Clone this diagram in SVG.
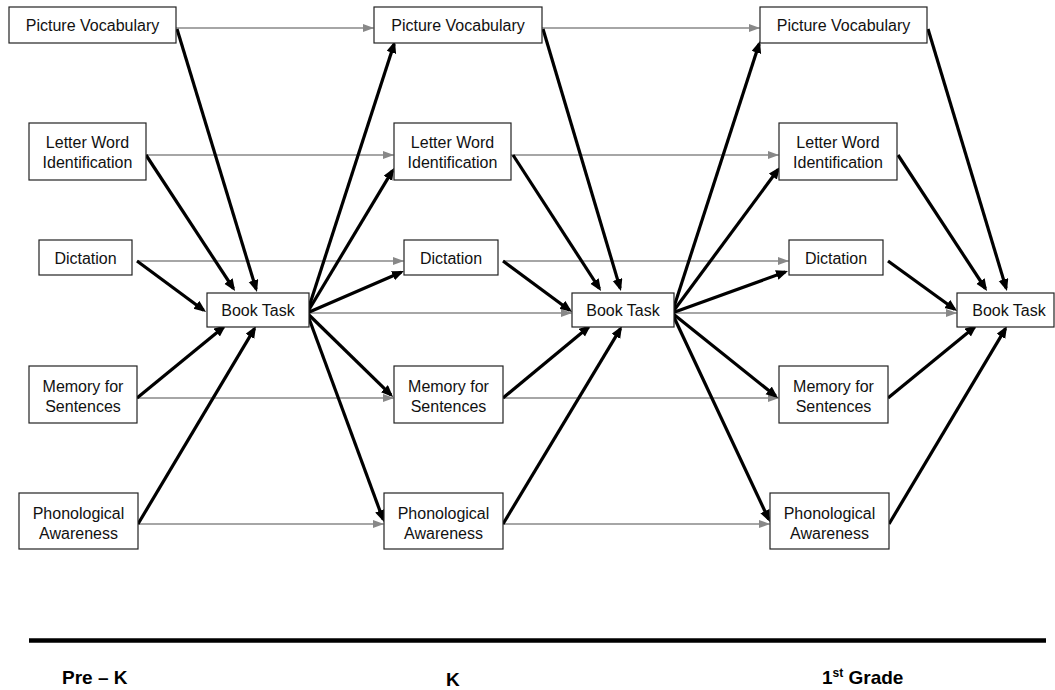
<svg xmlns="http://www.w3.org/2000/svg" width="1055" height="690" viewBox="0 0 1055 690">
<style>
.box{fill:#fff;stroke:#222;stroke-width:1.2}
.t{font-family:"Liberation Sans",Arial,sans-serif;font-size:16px;fill:#111;text-anchor:middle}
.g{stroke:#888;stroke-width:1.6;fill:none;marker-end:url(#gh)}
.b{stroke:#000;stroke-width:3.2;fill:none;marker-end:url(#ah)}
.lab{font-family:"Liberation Sans",Arial,sans-serif;font-size:19px;font-weight:bold;fill:#000}
</style>
<defs>
<marker id="ah" markerUnits="userSpaceOnUse" markerWidth="13" markerHeight="11" refX="9" refY="5" orient="auto"><path d="M0,0 L12,5 L0,10 z" fill="#000"/></marker>
<marker id="gh" markerUnits="userSpaceOnUse" markerWidth="12" markerHeight="9" refX="10.5" refY="4" orient="auto"><path d="M0,0 L11,4 L0,8 z" fill="#888"/></marker>
</defs>
<rect width="1055" height="690" fill="#fff"/>
<g id="connectors">
<!-- gray: Pre-K to K -->
<line class="g" x1="176" y1="28" x2="373.5" y2="28"/>
<line class="g" x1="146" y1="155" x2="393.5" y2="155"/>
<line class="g" x1="137" y1="261" x2="403.5" y2="261"/>
<line class="g" x1="309" y1="313" x2="571.5" y2="313"/>
<line class="g" x1="137" y1="398" x2="393.5" y2="398"/>
<line class="g" x1="138" y1="524" x2="383.5" y2="524"/>
<!-- gray: K to 1st -->
<line class="g" x1="542" y1="28" x2="759.5" y2="28"/>
<line class="g" x1="511" y1="155" x2="778.5" y2="155"/>
<line class="g" x1="503" y1="261" x2="788.5" y2="261"/>
<line class="g" x1="674" y1="313" x2="956.5" y2="313"/>
<line class="g" x1="503" y1="398" x2="778.5" y2="398"/>
<line class="g" x1="503" y1="524" x2="769.5" y2="524"/>
<!-- black: Pre-K to Book Task 1 -->
<line class="b" x1="177" y1="29" x2="256.1" y2="289.1"/>
<line class="b" x1="146" y1="155" x2="233.4" y2="288.5"/>
<line class="b" x1="137" y1="261" x2="203.6" y2="310.2"/>
<line class="b" x1="137" y1="398" x2="223.7" y2="326.9"/>
<line class="b" x1="138" y1="524" x2="254.5" y2="328.6"/>
<!-- black: Book Task 1 to K -->
<line class="b" x1="307" y1="313" x2="394.1" y2="43.9"/>
<line class="b" x1="307" y1="313" x2="392.5" y2="170.6"/>
<line class="b" x1="307" y1="313" x2="401.2" y2="272.2"/>
<line class="b" x1="307" y1="313" x2="390.9" y2="394.9"/>
<line class="b" x1="307" y1="313" x2="383" y2="519.2"/>
<!-- black: K to Book Task 2 -->
<line class="b" x1="543" y1="29" x2="620.1" y2="288.1"/>
<line class="b" x1="513" y1="155" x2="599.4" y2="288.5"/>
<line class="b" x1="503" y1="261" x2="569.6" y2="310.2"/>
<line class="b" x1="503" y1="398" x2="588.7" y2="326.9"/>
<line class="b" x1="503" y1="524" x2="620.5" y2="328.6"/>
<!-- black: Book Task 2 to 1st -->
<line class="b" x1="672" y1="313" x2="759.1" y2="43.9"/>
<line class="b" x1="672" y1="313" x2="778.2" y2="169.4"/>
<line class="b" x1="672" y1="313" x2="785.2" y2="272"/>
<line class="b" x1="672" y1="313" x2="775.7" y2="396.1"/>
<line class="b" x1="672" y1="313" x2="768.7" y2="519.3"/>
<!-- black: 1st to Book Task 3 -->
<line class="b" x1="928" y1="29" x2="1006.1" y2="288.1"/>
<line class="b" x1="898" y1="155" x2="985.4" y2="288.5"/>
<line class="b" x1="888" y1="261" x2="954.6" y2="309.2"/>
<line class="b" x1="888" y1="398" x2="974.7" y2="326.9"/>
<line class="b" x1="889" y1="524" x2="1005.5" y2="328.6"/>
</g>
<!-- Pre-K column -->
<g id="pv1"><rect class="box" x="9" y="7" width="167" height="36"/><text class="t" x="92.5" y="31">Picture Vocabulary</text></g>
<g id="lwi1"><rect class="box" x="29" y="123" width="117" height="57"/><text class="t" x="87.5" y="148">Letter Word</text><text class="t" x="87.5" y="168">Identification</text></g>
<g id="dict1"><rect class="box" x="39" y="240" width="93" height="35"/><text class="t" x="85.5" y="263.5">Dictation</text></g>
<g id="bt1"><rect class="box" x="207" y="293" width="102" height="34"/><text class="t" x="258" y="316">Book Task</text></g>
<g id="mem1"><rect class="box" x="29" y="366" width="108" height="57"/><text class="t" x="83" y="391.5">Memory for</text><text class="t" x="83" y="411.5">Sentences</text></g>
<g id="pa1"><rect class="box" x="19" y="493" width="119" height="56"/><text class="t" x="78.5" y="518.5">Phonological</text><text class="t" x="78.5" y="538.5">Awareness</text></g>
<!-- K column -->
<g id="pv2"><rect class="box" x="374" y="7" width="168" height="36"/><text class="t" x="458" y="31">Picture Vocabulary</text></g>
<g id="lwi2"><rect class="box" x="394" y="123" width="117" height="57"/><text class="t" x="452.5" y="148">Letter Word</text><text class="t" x="452.5" y="168">Identification</text></g>
<g id="dict2"><rect class="box" x="404" y="240" width="94" height="35"/><text class="t" x="451" y="263.5">Dictation</text></g>
<g id="bt2"><rect class="box" x="572" y="293" width="102" height="34"/><text class="t" x="623" y="316">Book Task</text></g>
<g id="mem2"><rect class="box" x="394" y="366" width="109" height="57"/><text class="t" x="448.5" y="391.5">Memory for</text><text class="t" x="448.5" y="411.5">Sentences</text></g>
<g id="pa2"><rect class="box" x="384" y="493" width="119" height="56"/><text class="t" x="443.5" y="518.5">Phonological</text><text class="t" x="443.5" y="538.5">Awareness</text></g>
<!-- 1st grade column -->
<g id="pv3"><rect class="box" x="760" y="7" width="167" height="36"/><text class="t" x="843.5" y="31">Picture Vocabulary</text></g>
<g id="lwi3"><rect class="box" x="779" y="123" width="118" height="57"/><text class="t" x="838" y="148">Letter Word</text><text class="t" x="838" y="168">Identification</text></g>
<g id="dict3"><rect class="box" x="789" y="240" width="94" height="35"/><text class="t" x="836" y="263.5">Dictation</text></g>
<g id="bt3"><rect class="box" x="957" y="293" width="97" height="34"/><text class="t" x="1009" y="316">Book Task</text></g>
<g id="mem3"><rect class="box" x="779" y="366" width="109" height="57"/><text class="t" x="833.5" y="391.5">Memory for</text><text class="t" x="833.5" y="411.5">Sentences</text></g>
<g id="pa3"><rect class="box" x="770" y="493" width="119" height="56"/><text class="t" x="829.5" y="518.5">Phonological</text><text class="t" x="829.5" y="538.5">Awareness</text></g>
<!-- timeline -->
<g id="timeline">
<line x1="29" y1="640.5" x2="1046" y2="640.5" stroke="#000" stroke-width="4.5"/>
<text class="lab" x="62" y="684">Pre – K</text>
<text class="lab" x="446" y="686">K</text>
<text class="lab" x="822" y="684">1<tspan font-size="12" dy="-7">st</tspan><tspan dy="7"> Grade</tspan></text>
</g>
</svg>
